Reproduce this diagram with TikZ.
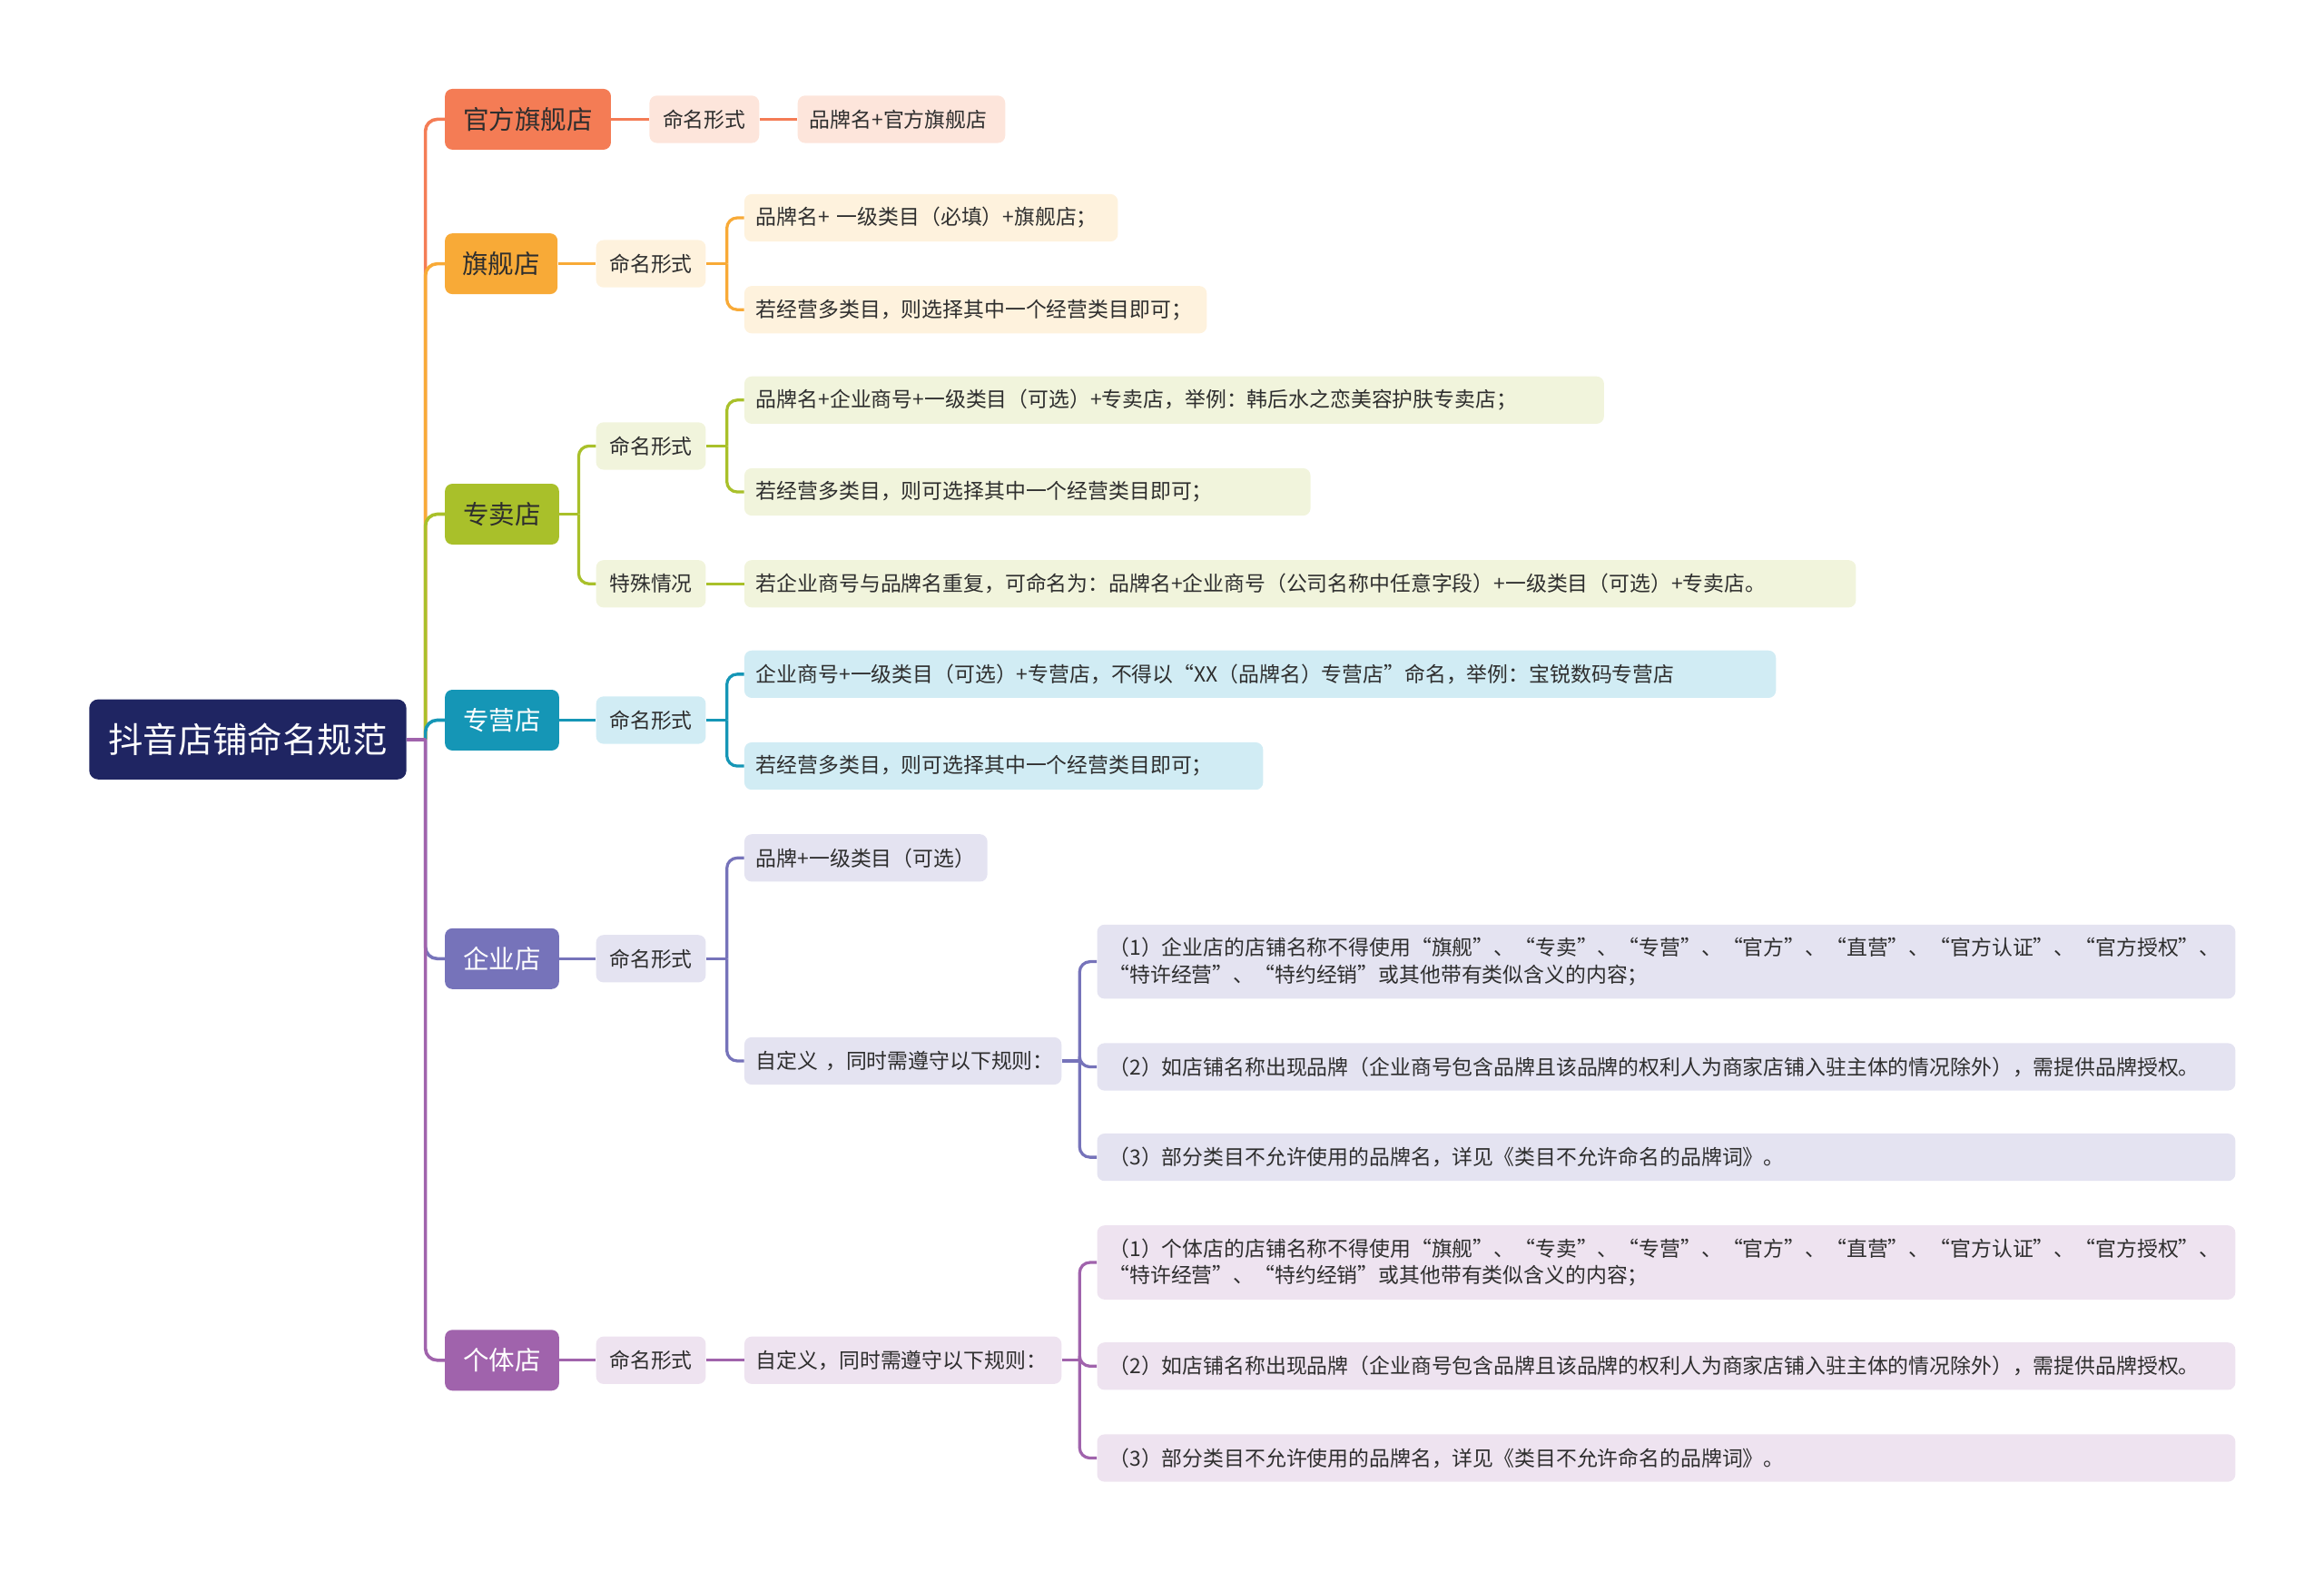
\documentclass[tikz,border=0pt]{standalone}
\usepackage{fontspec}
\setmainfont{Noto Sans CJK SC}
\definecolor{rootc}{HTML}{1F2562}
\definecolor{ca}{HTML}{F47C55}\definecolor{la}{HTML}{FDE5DB}
\definecolor{cb}{HTML}{F8AA37}\definecolor{lb}{HTML}{FEF2DD}
\definecolor{cc}{HTML}{A9C02A}\definecolor{lc}{HTML}{F1F4DC}
\definecolor{cd}{HTML}{1596B6}\definecolor{ld}{HTML}{D1ECF4}
\definecolor{ce}{HTML}{7673BA}\definecolor{le}{HTML}{E4E3F1}
\definecolor{cf}{HTML}{A063AC}\definecolor{lf}{HTML}{EEE3F0}
\definecolor{txt}{HTML}{2E2E2E}
\begin{document}
\begin{tikzpicture}[x=1pt,y=-1pt,
  rootbox/.style={fill=rootc, rounded corners=6pt, anchor=west, minimum width=214pt, minimum height=54pt, inner sep=0pt, text=white, font=\fontsize{23.5}{28}\selectfont},
  lvone/.style={rounded corners=5pt, anchor=west, minimum height=41pt, inner sep=0pt, font=\fontsize{17.5}{21}\selectfont},
  lvtwo/.style={rounded corners=5pt, anchor=west, minimum width=74pt, minimum height=32pt, inner sep=0pt, text=txt, font=\fontsize{14}{18}\selectfont},
  leaf/.style={rounded corners=5pt, anchor=west, minimum height=32pt, inner xsep=8pt, inner ysep=0pt, align=left, text=txt, font=\fontsize{14}{18}\selectfont},
  trunk/.style={line width=2.2pt, rounded corners=8pt},
  conn/.style={line width=2pt, rounded corners=7pt},
]
\useasboundingbox (0,0) rectangle (1568,1060);

% root
\node[rootbox] (r) at (60,499) {抖音店铺命名规范};
\coordinate (t) at (287,499);

% level 1
\node[lvone, fill=ca, minimum width=112pt, text=txt] (a) at (300,80.5) {官方旗舰店};
\node[lvone, fill=cb, minimum width=76pt, text=txt] (b) at (300,178) {旗舰店};
\node[lvone, fill=cc, minimum width=77pt, text=txt] (c) at (300,347) {专卖店};
\node[lvone, fill=cd, minimum width=77pt, text=white] (d) at (300,486) {专营店};
\node[lvone, fill=ce, minimum width=77pt, text=white] (e) at (300,647) {企业店};
\node[lvone, fill=cf, minimum width=77pt, text=white] (f) at (300,918) {个体店};

% trunk connectors
\draw[trunk, draw=ca] (t) |- (a.west);
\draw[trunk, draw=cb] (t) |- (b.west);
\draw[trunk, draw=cc] (t) |- (c.west);
\draw[trunk, draw=cd] (t) |- (d.west);
\draw[trunk, draw=ce] (t) |- (e.west);
\draw[trunk, draw=cf] (t) |- (f.west);
\draw[line width=2.2pt, draw=cf] (r.east) -- (t);

% branch A
\node[lvtwo, fill=la] (a1) at (438,80.5) {命名形式};
\node[leaf, fill=la, text width=124pt] (a2) at (538,80.5) {品牌名+官方旗舰店};
\draw[conn, draw=ca] (a.east) -- (a1.west);
\draw[conn, draw=ca] (a1.east) -- (a2.west);

% branch B
\node[lvtwo, fill=lb] (b1) at (402,178) {命名形式};
\node[leaf, fill=lb, text width=236pt] (b11) at (502,147) {品牌名+~一级类目（必填）+旗舰店；};
\node[leaf, fill=lb, text width=296pt] (b12) at (502,209) {若经营多类目，则选择其中一个经营类目即可；};
\draw[conn, draw=cb] (b.east) -- (b1.west);
\draw[conn, draw=cb] (b1.east) -- ++(14,0) coordinate (bj);
\draw[conn, draw=cb] (bj) |- (b11.west);
\draw[conn, draw=cb] (bj) |- (b12.west);

% branch C
\node[lvtwo, fill=lc] (c1) at (402,301) {命名形式};
\node[lvtwo, fill=lc] (c2) at (402,394) {特殊情况};
\node[leaf, fill=lc, text width=564pt] (c11) at (502,270) {品牌名+企业商号+一级类目（可选）+专卖店，举例：韩后水之恋美容护肤专卖店；};
\node[leaf, fill=lc, text width=366pt] (c12) at (502,332) {若经营多类目，则可选择其中一个经营类目即可；};
\node[leaf, fill=lc, text width=734pt] (c21) at (502,394) {若企业商号与品牌名重复，可命名为：品牌名+企业商号（公司名称中任意字段）+一级类目（可选）+专卖店。};
\draw[conn, draw=cc] (c.east) -- ++(13,0) coordinate (cj);
\draw[conn, draw=cc] (cj) |- (c1.west);
\draw[conn, draw=cc] (cj) |- (c2.west);
\draw[conn, draw=cc] (c1.east) -- ++(14,0) coordinate (c1j);
\draw[conn, draw=cc] (c1j) |- (c11.west);
\draw[conn, draw=cc] (c1j) |- (c12.west);
\draw[conn, draw=cc] (c2.east) -- (c21.west);

% branch D
\node[lvtwo, fill=ld] (d1) at (402,486) {命名形式};
\node[leaf, fill=ld, text width=680pt] (d11) at (502,455) {企业商号+一级类目（可选）+专营店，不得以“XX（品牌名）专营店”命名，举例：宝锐数码专营店};
\node[leaf, fill=ld, text width=334pt] (d12) at (502,517) {若经营多类目，则可选择其中一个经营类目即可；};
\draw[conn, draw=cd] (d.east) -- (d1.west);
\draw[conn, draw=cd] (d1.east) -- ++(14,0) coordinate (dj);
\draw[conn, draw=cd] (dj) |- (d11.west);
\draw[conn, draw=cd] (dj) |- (d12.west);

% branch E
\node[lvtwo, fill=le] (e1) at (402,647) {命名形式};
\node[leaf, fill=le, text width=148pt] (e11) at (502,579) {品牌+一级类目（可选）};
\node[leaf, fill=le, text width=198pt] (e12) at (502,716) {自定义~，同时需遵守以下规则：};
\node[leaf, fill=le, text width=752pt, minimum height=50pt] (e121) at (740,649) {（1）企业店的店铺名称不得使用“旗舰”、“专卖”、“专营”、“官方”、“直营”、“官方认证”、“官方授权”、\\“特许经营”、“特约经销”或其他带有类似含义的内容；};
\node[leaf, fill=le, text width=752pt] (e122) at (740,720) {（2）如店铺名称出现品牌（企业商号包含品牌且该品牌的权利人为商家店铺入驻主体的情况除外），需提供品牌授权。};
\node[leaf, fill=le, text width=752pt] (e123) at (740,781) {（3）部分类目不允许使用的品牌名，详见《类目不允许命名的品牌词》。};
\draw[conn, draw=ce] (e.east) -- (e1.west);
\draw[conn, draw=ce] (e1.east) -- ++(14,0) coordinate (ej);
\draw[conn, draw=ce] (ej) |- (e11.west);
\draw[conn, draw=ce] (ej) |- (e12.west);
\draw[conn, draw=ce] (e12.east) -- ++(12,0) coordinate (e2j);
\draw[conn, draw=ce] (e2j) |- (e121.west);
\draw[conn, draw=ce] (e2j) |- (e122.west);
\draw[conn, draw=ce] (e2j) |- (e123.west);

% branch F
\node[lvtwo, fill=lf] (f1) at (402,918) {命名形式};
\node[leaf, fill=lf, text width=198pt] (f11) at (502,918) {自定义，同时需遵守以下规则：};
\node[leaf, fill=lf, text width=752pt, minimum height=50pt] (f111) at (740,852) {（1）个体店的店铺名称不得使用“旗舰”、“专卖”、“专营”、“官方”、“直营”、“官方认证”、“官方授权”、\\“特许经营”、“特约经销”或其他带有类似含义的内容；};
\node[leaf, fill=lf, text width=752pt] (f112) at (740,922) {（2）如店铺名称出现品牌（企业商号包含品牌且该品牌的权利人为商家店铺入驻主体的情况除外），需提供品牌授权。};
\node[leaf, fill=lf, text width=752pt] (f113) at (740,984) {（3）部分类目不允许使用的品牌名，详见《类目不允许命名的品牌词》。};
\draw[conn, draw=cf] (f.east) -- (f1.west);
\draw[conn, draw=cf] (f1.east) -- (f11.west);
\draw[conn, draw=cf] (f11.east) -- ++(12,0) coordinate (fj);
\draw[conn, draw=cf] (fj) |- (f111.west);
\draw[conn, draw=cf] (fj) |- (f112.west);
\draw[conn, draw=cf] (fj) |- (f113.west);
\end{tikzpicture}
\end{document}
